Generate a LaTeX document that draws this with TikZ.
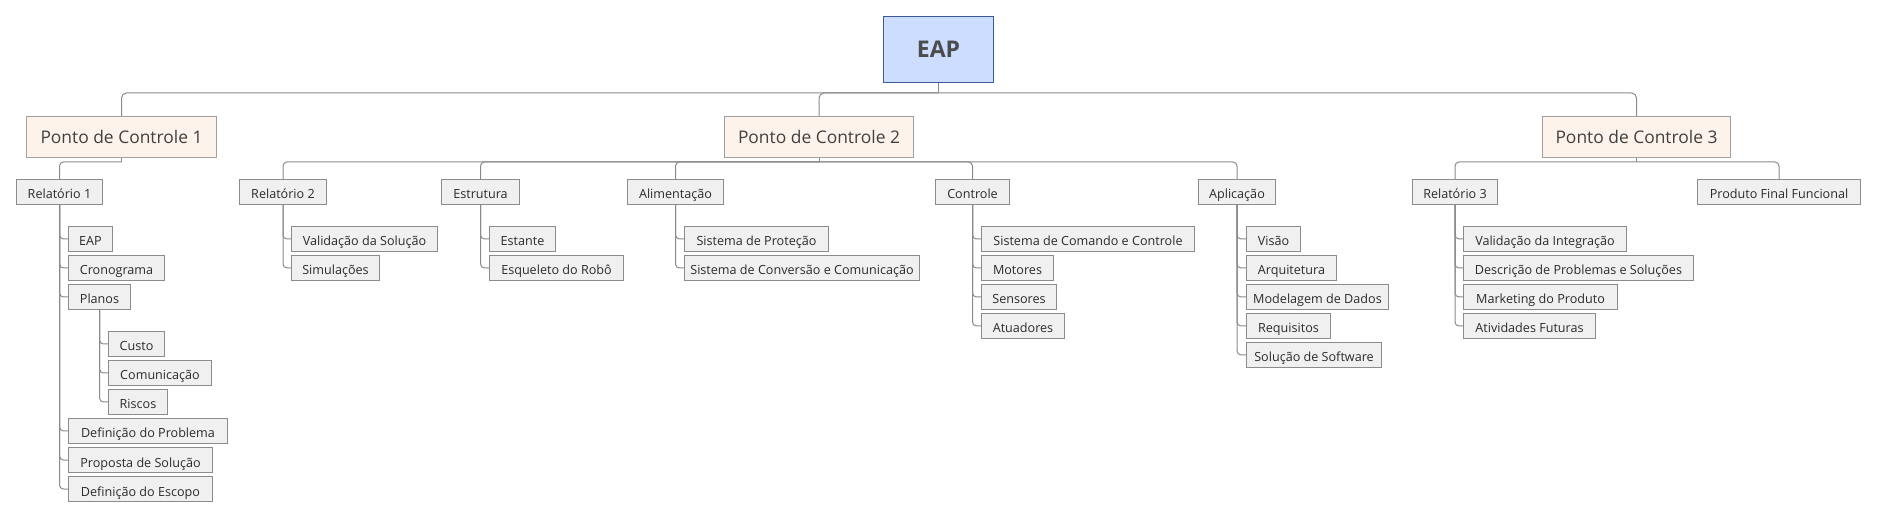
\documentclass[tikz,border=0pt]{standalone}
\usepackage{fontspec}
\setmainfont{Open Sans}
\definecolor{rootfill}{HTML}{CCDDFF}
\definecolor{rootdraw}{HTML}{3C5A96}
\definecolor{pcfill}{HTML}{FDF3EA}
\definecolor{pcdraw}{HTML}{A0A0A0}
\definecolor{leaffill}{HTML}{F0F0F0}
\definecolor{leafdraw}{HTML}{8C8C8C}
\definecolor{linecol}{HTML}{8A8A8A}
\definecolor{txt}{HTML}{2B2B2B}
\begin{document}
\begin{tikzpicture}[x=1pt,y=-1pt,
  rootbox/.style={draw=rootdraw,fill=rootfill,line width=1pt,anchor=north west,inner sep=0pt,
    minimum height=66pt,text=black!70,font=\fontsize{23}{28}\selectfont\bfseries},
  pcbox/.style={draw=pcdraw,fill=pcfill,line width=1pt,anchor=north west,inner sep=0pt,
    minimum height=41pt,text=black!75,font=\fontsize{17.4}{21}\selectfont},
  leaf/.style={draw=leafdraw,fill=leaffill,line width=1pt,anchor=north west,inner sep=0pt,
    minimum height=25pt,text=txt,font=\fontsize{12.6}{15}\selectfont,
    text height=14pt,text depth=0pt},
  conn/.style={draw=linecol,line width=1pt},
  elbow/.style={draw=linecol,line width=1pt,rounded corners=5pt},
  sub/.style={draw=linecol,line width=1pt,rounded corners=4pt}]
\useasboundingbox (0,0) rectangle (1877,518);
% root and control points
\node[rootbox,minimum width=110pt] (root) at (883,16) {EAP};
\node[pcbox,minimum width=190pt] (pc1) at (26,116) {Ponto de Controle 1};
\node[pcbox,minimum width=189pt] (pc2) at (724,116) {Ponto de Controle 2};
\node[pcbox,minimum width=188pt] (pc3) at (1542,116) {Ponto de Controle 3};
% level 2
\node[leaf,minimum width=86pt] (rel1) at (16,179) {Relatório 1};
\node[leaf,minimum width=87pt] (rel2) at (239,179) {Relatório 2};
\node[leaf,minimum width=78pt] (estr) at (441,179) {Estrutura};
\node[leaf,minimum width=96pt] (alim) at (627,179) {Alimentação};
\node[leaf,minimum width=74pt] (ctrl) at (935,179) {Controle};
\node[leaf,minimum width=77pt] (apl) at (1198,179) {Aplicação};
\node[leaf,minimum width=85pt] (rel3) at (1412,179) {Relatório 3};
\node[leaf,minimum width=163pt] (prod) at (1697,179) {Produto Final Funcional};
% Relatorio 1 children
\node[leaf,minimum width=44pt] (r1a) at (68,226) {EAP};
\node[leaf,minimum width=96pt] (r1b) at (68,255) {Cronograma};
\node[leaf,minimum width=62pt] (r1c) at (68,284) {Planos};
\node[leaf,minimum width=56pt] (r1c1) at (108,331) {Custo};
\node[leaf,minimum width=103pt] (r1c2) at (108,360) {Comunicação};
\node[leaf,minimum width=59pt] (r1c3) at (108,389) {Riscos};
\node[leaf,minimum width=159pt] (r1d) at (68,418) {Definição do Problema};
\node[leaf,minimum width=144pt] (r1e) at (68,447) {Proposta de Solução};
\node[leaf,minimum width=144pt] (r1f) at (68,476) {Definição do Escopo};
% Relatorio 2 children
\node[leaf,minimum width=146pt] (r2a) at (291,226) {Validação da Solução};
\node[leaf,minimum width=88pt] (r2b) at (291,255) {Simulações};
% Estrutura children
\node[leaf,minimum width=66pt] (esa) at (489,226) {Estante};
\node[leaf,minimum width=134pt] (esb) at (489,255) {Esqueleto do Robô};
% Alimentacao children
\node[leaf,minimum width=144pt] (ala) at (684,226) {Sistema de Proteção};
\node[leaf,minimum width=235pt] (alb) at (684,255) {Sistema de Conversão e Comunicação};
% Controle children
\node[leaf,minimum width=213pt] (cta) at (981,226) {Sistema de Comando e Controle};
\node[leaf,minimum width=72pt] (ctb) at (981,255) {Motores};
\node[leaf,minimum width=75pt] (ctc) at (981,284) {Sensores};
\node[leaf,minimum width=83pt] (ctd) at (981,313) {Atuadores};
% Aplicacao children
\node[leaf,minimum width=54pt] (apa) at (1246,226) {Visão};
\node[leaf,minimum width=90pt] (apb) at (1246,255) {Arquitetura};
\node[leaf,minimum width=142pt] (apc) at (1246,284) {Modelagem de Dados};
\node[leaf,minimum width=84pt] (apd) at (1246,313) {Requisitos};
\node[leaf,minimum width=135pt] (ape) at (1246,342) {Solução de Software};
% Relatorio 3 children
\node[leaf,minimum width=163pt] (r3a) at (1463,226) {Validação da Integração};
\node[leaf,minimum width=230pt] (r3b) at (1463,255) {Descrição de Problemas e Soluções};
\node[leaf,minimum width=154pt] (r3c) at (1463,284) {Marketing do Produto};
\node[leaf,minimum width=132pt] (r3d) at (1463,313) {Atividades Futuras};
% connectors root -> PCs
\draw[conn] (root.south) -- ++(0,10) coordinate (rootbus);
\foreach \c in {pc1,pc2,pc3} \draw[elbow] (rootbus) -| (\c.north);
% PC -> level 2
\draw[conn] (pc1.south) -- ++(0,4) coordinate (pc1bus);
\draw[conn] (pc2.south) -- ++(0,4) coordinate (pc2bus);
\draw[conn] (pc3.south) -- ++(0,4) coordinate (pc3bus);
\foreach \c in {rel1} \draw[sub] (pc1bus) -| (\c.north);
\foreach \c in {rel2,estr,alim,ctrl,apl} \draw[sub] (pc2bus) -| (\c.north);
\foreach \c in {rel3,prod} \draw[sub] (pc3bus) -| (\c.north);
% level 2 -> level 3
\foreach \c in {r1a,r1b,r1c,r1d,r1e,r1f} \draw[sub] (rel1.south) |- (\c.west);
\foreach \c in {r1c1,r1c2,r1c3} \draw[sub] (r1c.south) |- (\c.west);
\foreach \c in {r2a,r2b} \draw[sub] (rel2.south) |- (\c.west);
\foreach \c in {esa,esb} \draw[sub] (estr.south) |- (\c.west);
\foreach \c in {ala,alb} \draw[sub] (alim.south) |- (\c.west);
\foreach \c in {cta,ctb,ctc,ctd} \draw[sub] (ctrl.south) |- (\c.west);
\foreach \c in {apa,apb,apc,apd,ape} \draw[sub] (apl.south) |- (\c.west);
\foreach \c in {r3a,r3b,r3c,r3d} \draw[sub] (rel3.south) |- (\c.west);
\end{tikzpicture}
\end{document}
